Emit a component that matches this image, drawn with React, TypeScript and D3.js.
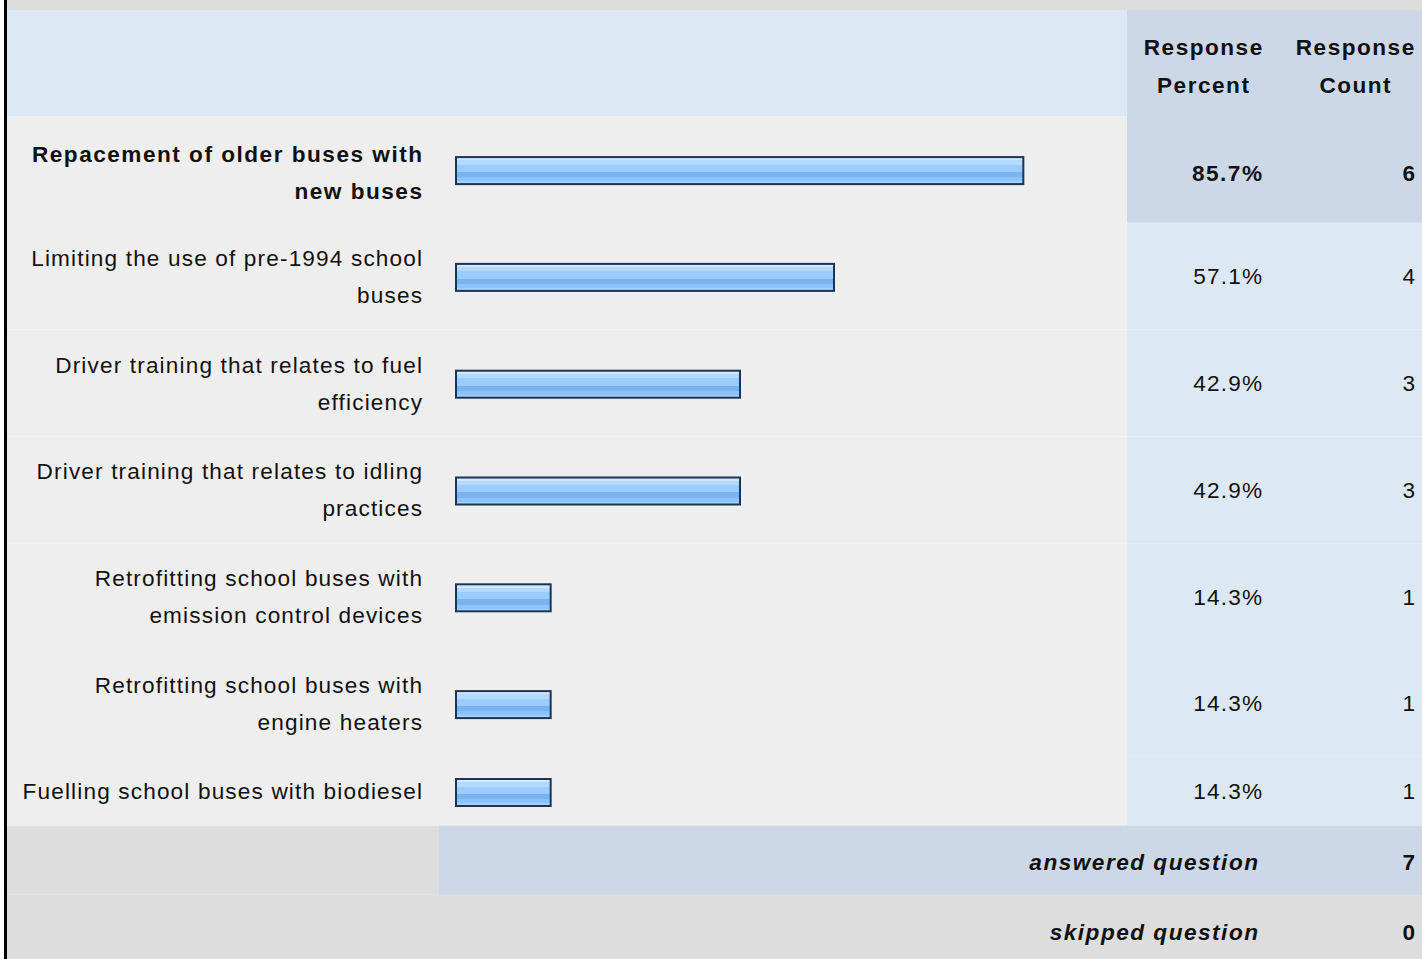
import React from "react";
import * as d3 from "d3";

const categories: string[][] = [
  ["Repacement of older buses with", "new buses"],
  ["Limiting the use of pre-1994 school", "buses"],
  ["Driver training that relates to fuel", "efficiency"],
  ["Driver training that relates to idling", "practices"],
  ["Retrofitting school buses with", "emission control devices"],
  ["Retrofitting school buses with", "engine heaters"],
  ["Fuelling school buses with biodiesel"],
];
const percents: number[] = [85.7, 57.1, 42.9, 42.9, 14.3, 14.3, 14.3];
const counts: number[] = [6, 4, 3, 3, 1, 1, 1];
const headerPercent: string[] = ["Response", "Percent"];
const headerCount: string[] = ["Response", "Count"];
const answered = 7;
const skipped = 0;

const W = 1422;
const H = 959;
const FONT = "'Liberation Sans', Arial, Helvetica, sans-serif";
const FS = 22.6;
const LS_REG = 1.15;
const LS_BOLD = 1.5;

export default function App() {
  const headTop = 10;
  const headBottom = 116;
  const rowH = (n: number) => (n > 1 ? 106.8 : 69);
  const rows: { y0: number; y1: number }[] = [];
  let y = headBottom;
  categories.forEach((c) => {
    const h = rowH(c.length);
    rows.push({ y0: y, y1: y + h });
    y += h;
  });
  const tableBottom = y;
  const answeredBottom = tableBottom + 69;

  const x = d3.scaleLinear().domain([0, 100]).range([0, 662]);
  const barX = 456;
  const colSplit = 1127;

  const txt = (props: any, content: any, bold = false, italic = false) => {
    const ls = bold ? LS_BOLD : LS_REG;
    const p = { ...props };
    if (p.textAnchor === "end") p.x = p.x + ls;
    if (p.textAnchor === "middle") p.x = p.x + ls / 2;
    return (
      <text
        fontFamily={FONT}
        fontSize={FS}
        letterSpacing={ls}
        fontWeight={bold ? "bold" : "normal"}
        fontStyle={italic ? "italic" : "normal"}
        fill="#111"
        {...p}
      >
        {content}
      </text>
    );
  };

  return (
    <svg
      width={W}
      height={H}
      style={{ position: "absolute", left: 0, top: 0, display: "block" }}
    >
      <defs>
        <linearGradient id="barGrad" x1="0" y1="0" x2="0" y2="1">
          <stop offset="0" stopColor="#cfe7ff" />
          <stop offset="0.12" stopColor="#cfe7ff" />
          <stop offset="0.12" stopColor="#b3d9ff" />
          <stop offset="0.28" stopColor="#b3d9ff" />
          <stop offset="0.28" stopColor="#99ccff" />
          <stop offset="0.55" stopColor="#99ccff" />
          <stop offset="0.55" stopColor="#7ab3ef" />
          <stop offset="0.75" stopColor="#7ab3ef" />
          <stop offset="0.75" stopColor="#8cc3fb" />
          <stop offset="0.9" stopColor="#8cc3fb" />
          <stop offset="0.9" stopColor="#a3cffc" />
          <stop offset="1" stopColor="#a3cffc" />
        </linearGradient>
      </defs>
      <rect x={0} y={0} width={W} height={H} fill="#ffffff" />
      <rect x={4} y={0} width={W - 4} height={headTop} fill="#dddddd" />
      <rect x={4} y={0} width={3} height={H} fill="#000000" />
      {/* header */}
      <rect x={7} y={headTop} width={colSplit - 7} height={headBottom - headTop} fill="#dde8f5" />
      <rect x={colSplit} y={headTop} width={W - colSplit} height={headBottom - headTop} fill="#ccd8e6" />
      {headerPercent.map((t, i) =>
        txt({ key: "hp" + i, x: 1203, y: 55 + i * 37.7, textAnchor: "middle" }, t, true)
      )}
      {headerCount.map((t, i) =>
        txt({ key: "hc" + i, x: 1355, y: 55 + i * 37.7, textAnchor: "middle" }, t, true)
      )}
      {/* rows */}
      {categories.map((lines, i) => {
        const r = rows[i];
        const cy = (r.y0 + r.y1) / 2;
        const bold = i === 0;
        const tOff = bold ? 3.5 : 0;
        const n = lines.length;
        return (
          <g key={"row" + i}>
            <rect x={7} y={r.y0} width={colSplit - 7} height={r.y1 - r.y0} fill="#eeeeee" />
            <rect
              x={colSplit}
              y={r.y0}
              width={W - colSplit}
              height={r.y1 - r.y0}
              fill={bold ? "#ccd8e6" : "#dde8f5"}
            />
            {lines.map((l, j) =>
              txt(
                {
                  key: "l" + j,
                  x: 422,
                  y: cy + 8 + tOff + (j - (n - 1) / 2) * 37,
                  textAnchor: "end",
                },
                l,
                bold
              )
            )}
            <rect
              x={barX}
              y={cy + 1.2 - 13.5}
              width={x(percents[i])}
              height={27}
              fill="url(#barGrad)"
              stroke="#1c3557"
              strokeWidth={2}
            />
            {txt(
              { x: 1262, y: cy + 8 + tOff, textAnchor: "end" },
              percents[i].toFixed(1) + "%",
              bold
            )}
            {txt(
              { x: 1415, y: cy + 8 + tOff, textAnchor: "end" },
              String(counts[i]),
              bold
            )}
          </g>
        );
      })}
      {/* answered */}
      <rect x={7} y={tableBottom} width={W - 7} height={answeredBottom - tableBottom} fill="#dddddd" />
      <rect x={439} y={tableBottom} width={W - 439} height={answeredBottom - tableBottom} fill="#ccd8e6" />
      {txt({ x: 1258, y: tableBottom + 44, textAnchor: "end" }, "answered question", true, true)}
      {txt({ x: 1415, y: tableBottom + 44, textAnchor: "end" }, String(answered), true)}
      {/* skipped */}
      <rect x={7} y={answeredBottom} width={W - 7} height={H - answeredBottom} fill="#dddddd" />
      {txt({ x: 1258, y: answeredBottom + 45, textAnchor: "end" }, "skipped question", true, true)}
      {txt({ x: 1415, y: answeredBottom + 45, textAnchor: "end" }, String(skipped), true)}
    </svg>
  );
}
